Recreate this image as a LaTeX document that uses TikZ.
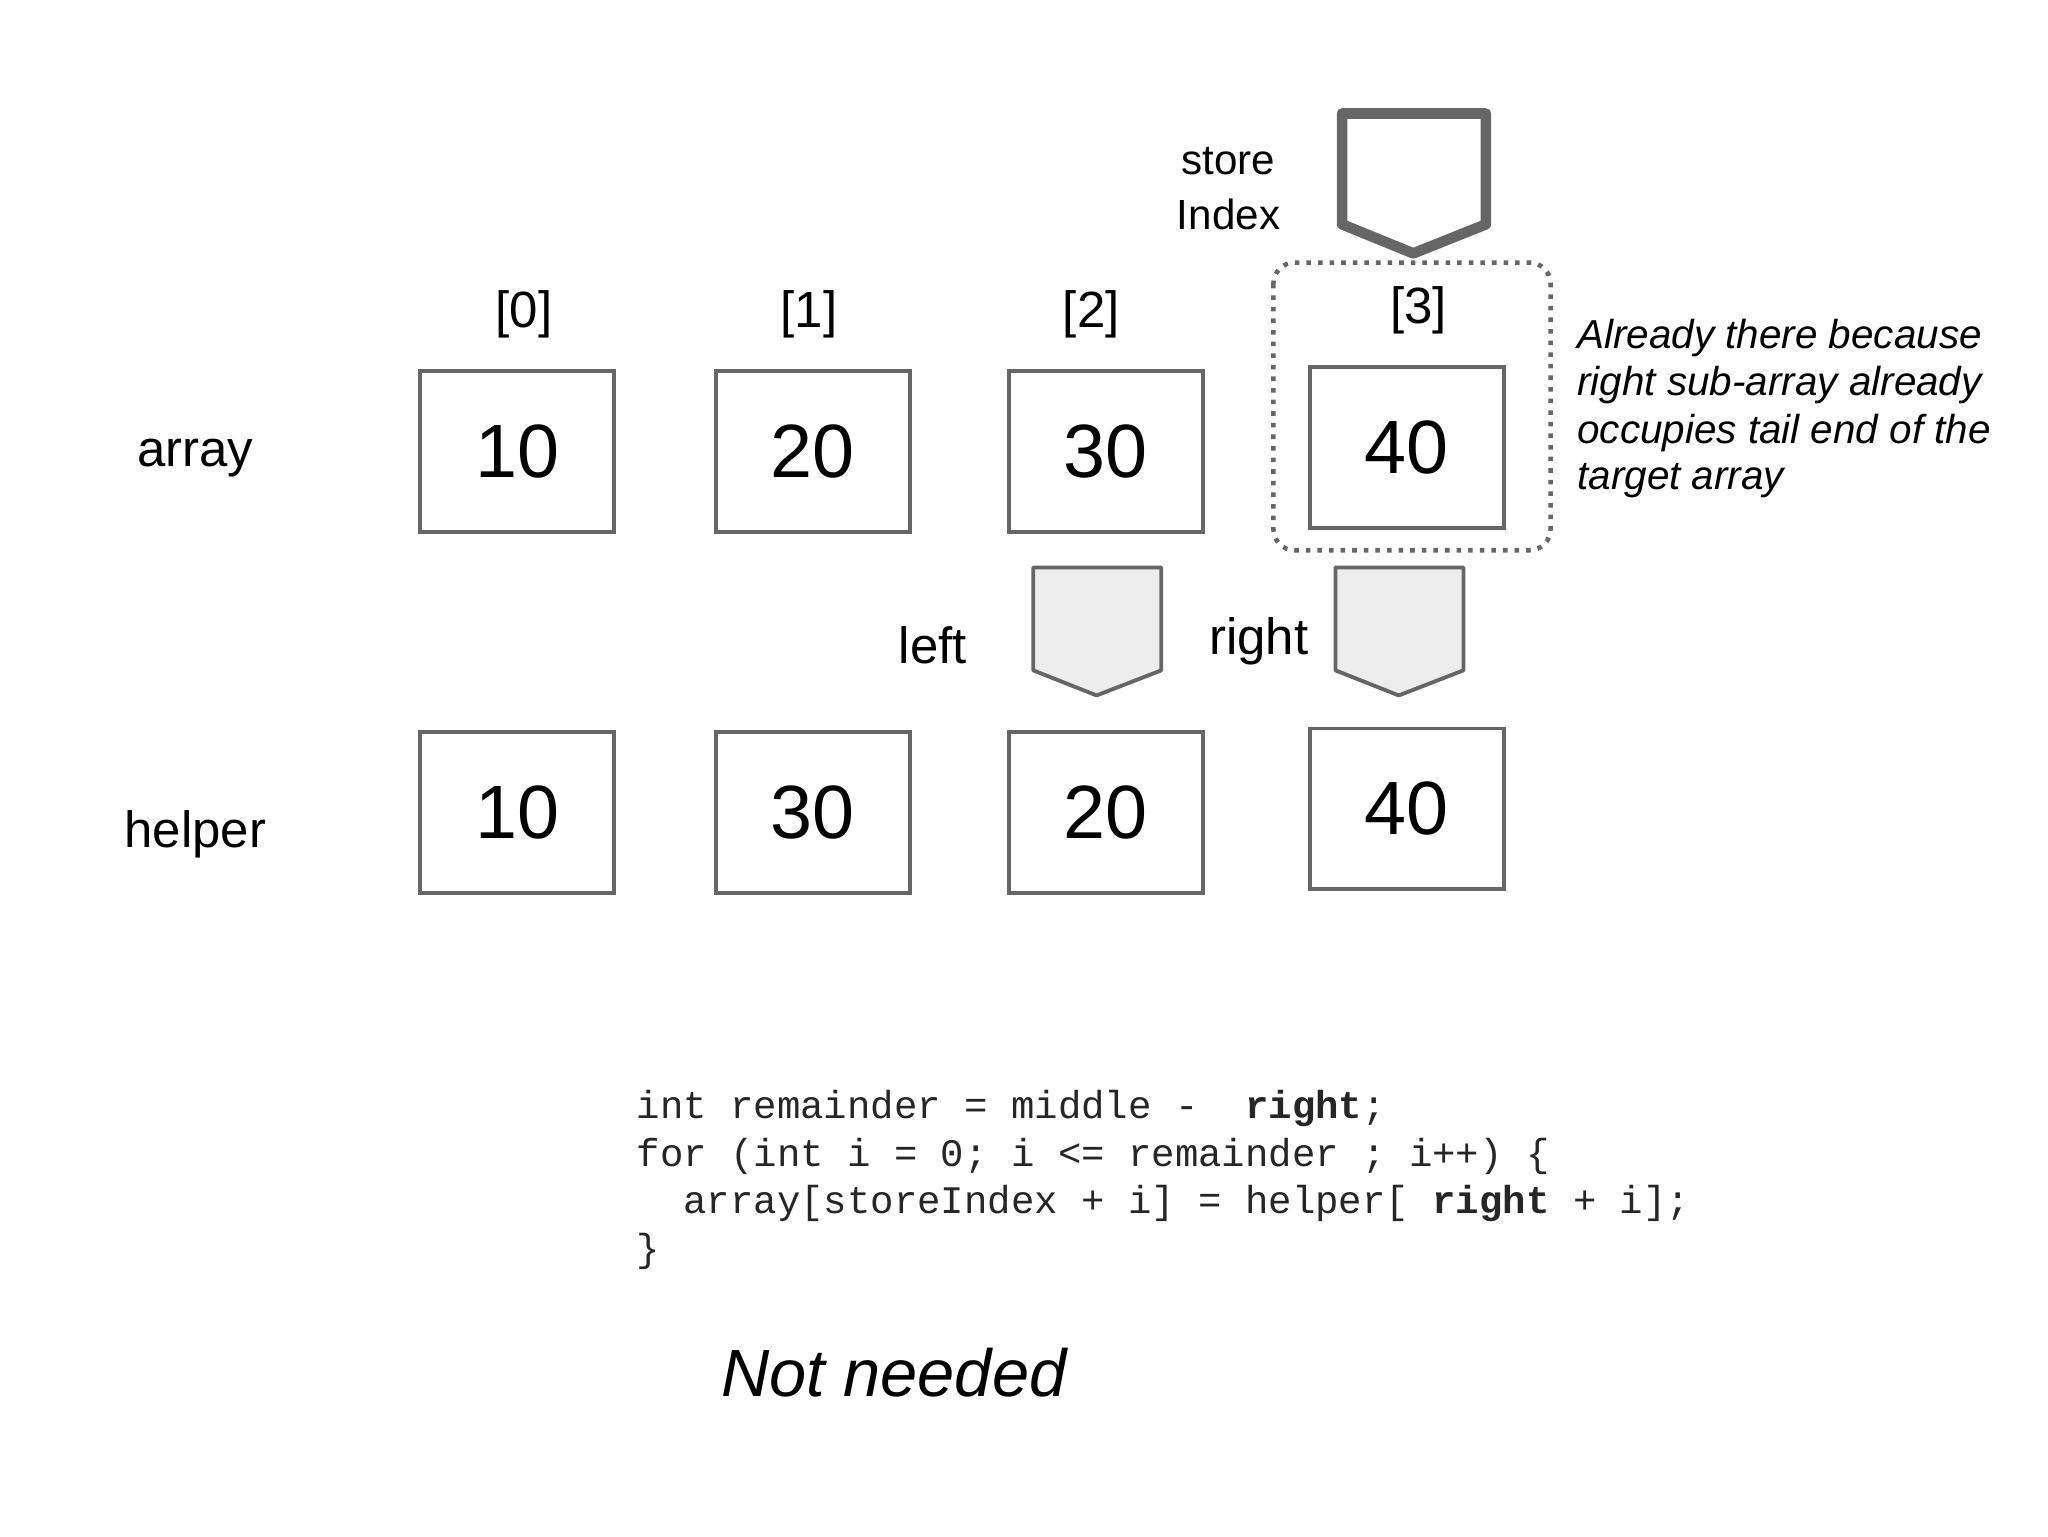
\documentclass[tikz,border=0pt]{standalone}
\usepackage{fontspec}
\setmainfont{Liberation Sans}
\newfontfamily\codefont{Liberation Mono}
\begin{document}
\begin{tikzpicture}[x=0.0132cm,y=-0.0132cm,
  cell/.style={draw=black!60,line width=1.1pt,minimum width=1.94cm,minimum height=1.61cm,inner sep=0pt,font=\fontsize{21.5}{24}\selectfont},
  lbl/.style={font=\fontsize{14.5}{17}\selectfont},
  note/.style={anchor=west,font=\itshape\fontsize{11.5}{14}\selectfont},
  code/.style={anchor=west,inner sep=0pt,font=\codefont\fontsize{11.1}{13}\selectfont,text=black!85},
  ptr/.style={draw=black!60,line width=1.1pt,fill=black!7,line join=round}]
\useasboundingbox (0,0) rectangle (1552,1164);
\node[cell] (a0) at (392,342) {10};
\node[cell] (a1) at (616,342) {20};
\node[cell] (a2) at (838,342) {30};
\node[cell] (a3) at (1066,339) {40};
\node[cell] (h0) at (392,616) {10};
\node[cell] (h1) at (616,616) {30};
\node[cell] (h2) at (838,616) {20};
\node[cell] (h3) at (1066,613) {40};
\node[lbl] (larr) at (148,347) {array};
\node[lbl] (lhelp) at (148,632) {helper};
\node[lbl] (i0) at (397,238) {[0]};
\node[lbl] (i1) at (613,238) {[1]};
\node[lbl] (i2) at (827,238) {[2]};
\node[lbl] (i3) at (1075,235) {[3]};
\draw[draw=black!60,line width=3pt,line join=round,fill=white] (1017,86) -- (1126,86) -- (1126,170) -- (1071,192) -- (1017,170) -- cycle;
\node[font=\fontsize{12}{15.5}\selectfont,align=center] (si) at (931,143) {store\\Index};
\draw[black!60,line width=1.3pt,dotted,rounded corners=6] (965,199) rectangle (1175,417);
\draw[ptr] (783,430) -- (880,430) -- (880,508) -- (831,527) -- (783,508) -- cycle;
\draw[ptr] (1012,430) -- (1109,430) -- (1109,508) -- (1060,527) -- (1012,508) -- cycle;
\node[lbl] (ll) at (707,489) {left};
\node[lbl] (lr) at (954,486) {right};
\node[note] (n1) at (1186,256) {Already there because};
\node[note] (n2) at (1186,292) {right sub-array already};
\node[note] (n3) at (1186,328) {occupies tail end of the};
\node[note] (n4) at (1186,364) {target array};
\node[code] (c1) at (482,840) {int remainder = middle -\ \ \textbf{right};};
\node[code] (c2) at (482,876) {for (int i = 0; i <= remainder ; i++) \{};
\node[code] (c3) at (482,912) {\ \ array[storeIndex + i] = helper[ \textbf{right} + i];};
\node[code] (c4) at (482,948) {\}};
\node[anchor=west,inner sep=0pt,font=\itshape\fontsize{19}{22}\selectfont] (nn) at (546,1040) {Not needed};
\end{tikzpicture}
\end{document}
